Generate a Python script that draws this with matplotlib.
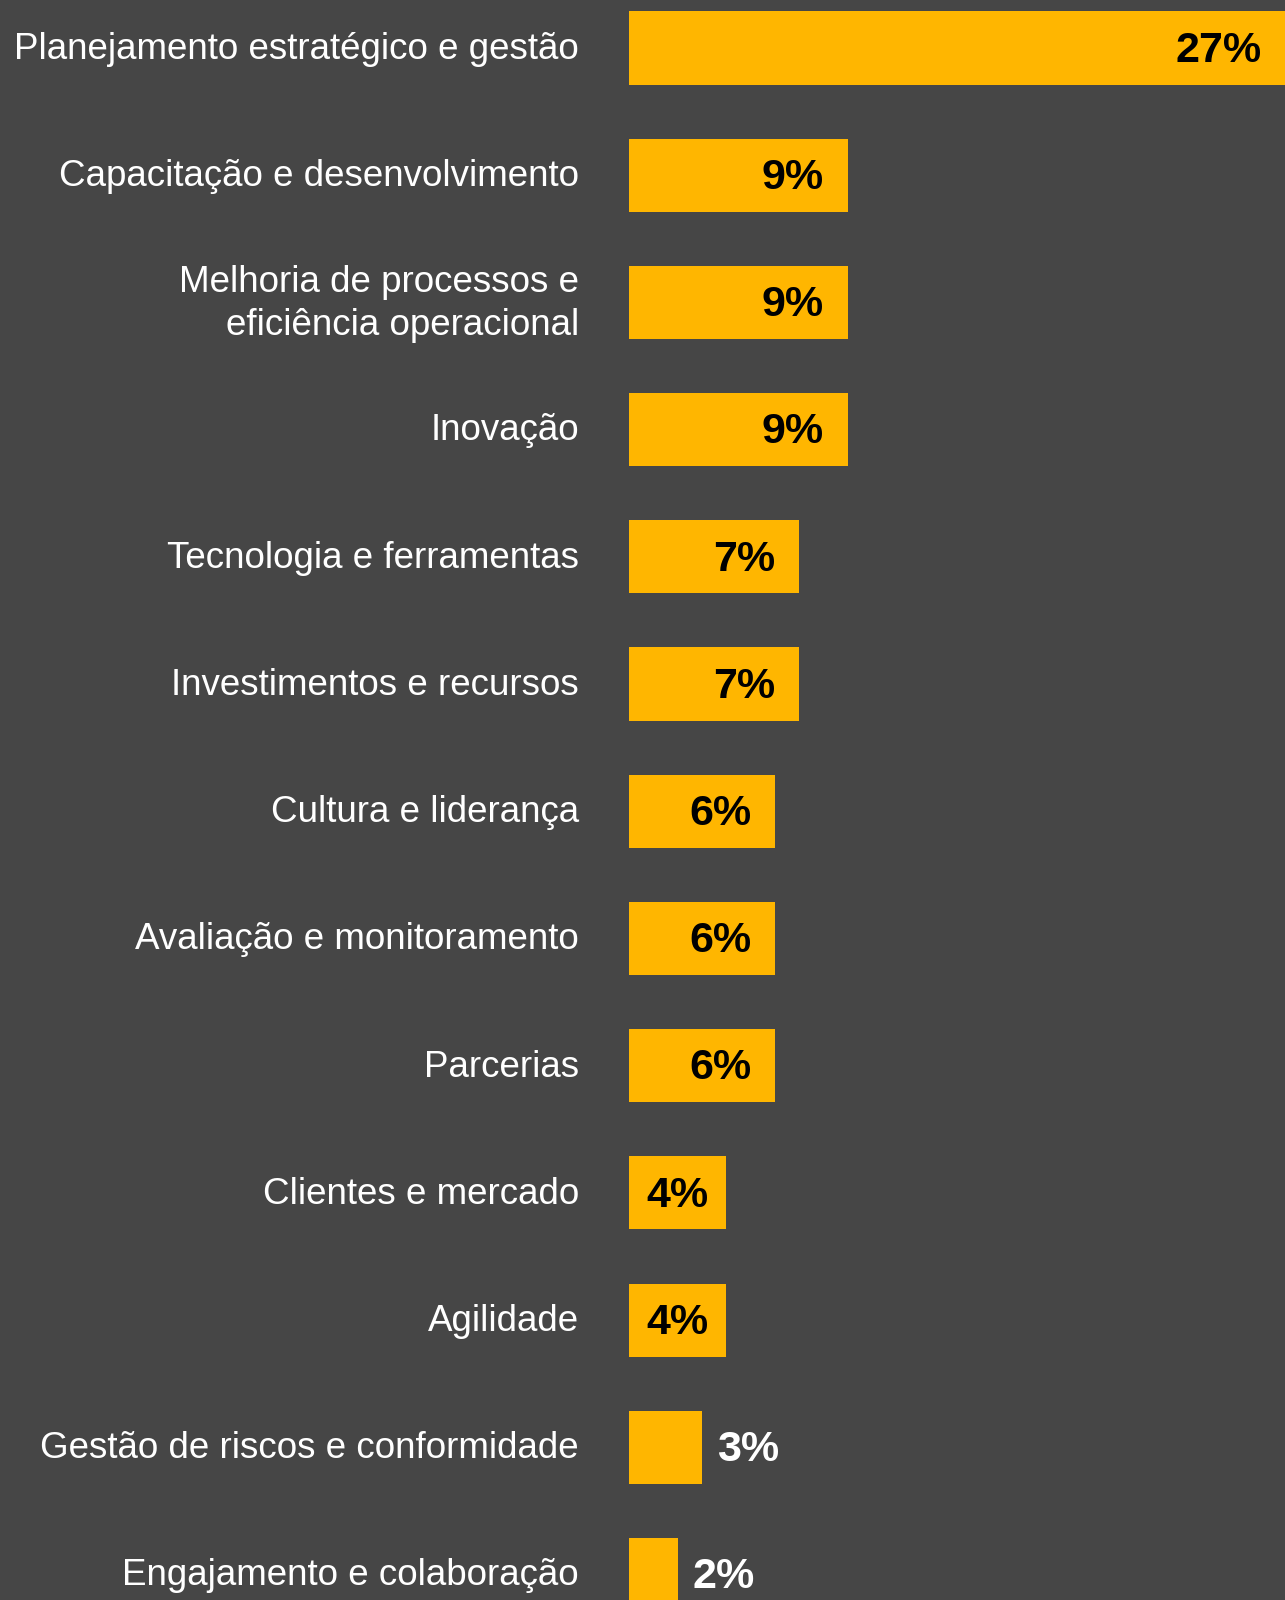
import matplotlib.pyplot as plt
import numpy as np

# Share of mentions per theme (%)
categories = [
    'Planejamento estratégico e gestão',
    'Capacitação e desenvolvimento',
    'Melhoria de processos e\neficiência operacional',
    'Inovação',
    'Tecnologia e ferramentas',
    'Investimentos e recursos',
    'Cultura e liderança',
    'Avaliação e monitoramento',
    'Parcerias',
    'Clientes e mercado',
    'Agilidade',
    'Gestão de riscos e conformidade',
    'Engajamento e colaboração',
]
values = [27, 9, 9, 9, 7, 7, 6, 6, 6, 4, 4, 3, 2]
value_labels = [f'{v}%' for v in values]

bg_color = '#464646'
bar_color = '#FFB600'

plt.rcParams['font.family'] = ['Liberation Sans', 'DejaVu Sans']

fig = plt.figure(figsize=(12.85, 16), dpi=100, facecolor=bg_color)
ax = fig.add_axes([629 / 1285, 0, 1 - 629 / 1285, 1])
ax.set_facecolor(bg_color)

y = np.arange(len(categories))
ax.barh(y, values, height=0.575, color=bar_color, left=0)

ax.set_xlim(0, 27.0)
ax.set_ylim(12.2, -0.377)
ax.axis('off')

# category names, right aligned left of the bars
for yi, name in zip(y, categories):
    ax.annotate(name, xy=(0, yi), xytext=(-36, -1), textcoords='offset points',
                ha='right', va='center', color='white', fontsize=26.5,
                linespacing=1.3, annotation_clip=False)

# value labels: inside the bar when it fits, outside otherwise
vfont = dict(fontsize=31, fontweight='bold', va='center')
for yi, v, lab in zip(y, values, value_labels):
    if v >= 6:
        ax.annotate(lab, xy=(v, yi), xytext=(-17, -2), textcoords='offset points',
                    ha='right', color='black', **vfont)
    elif v >= 4:
        ax.annotate(lab, xy=(v / 2, yi), xytext=(0, -2), textcoords='offset points',
                    ha='center', color='black', **vfont)
    else:
        ax.annotate(lab, xy=(v, yi), xytext=(11, -2), textcoords='offset points',
                    ha='left', color='white', **vfont)

fig.savefig('out.png', dpi=100, facecolor=bg_color)
